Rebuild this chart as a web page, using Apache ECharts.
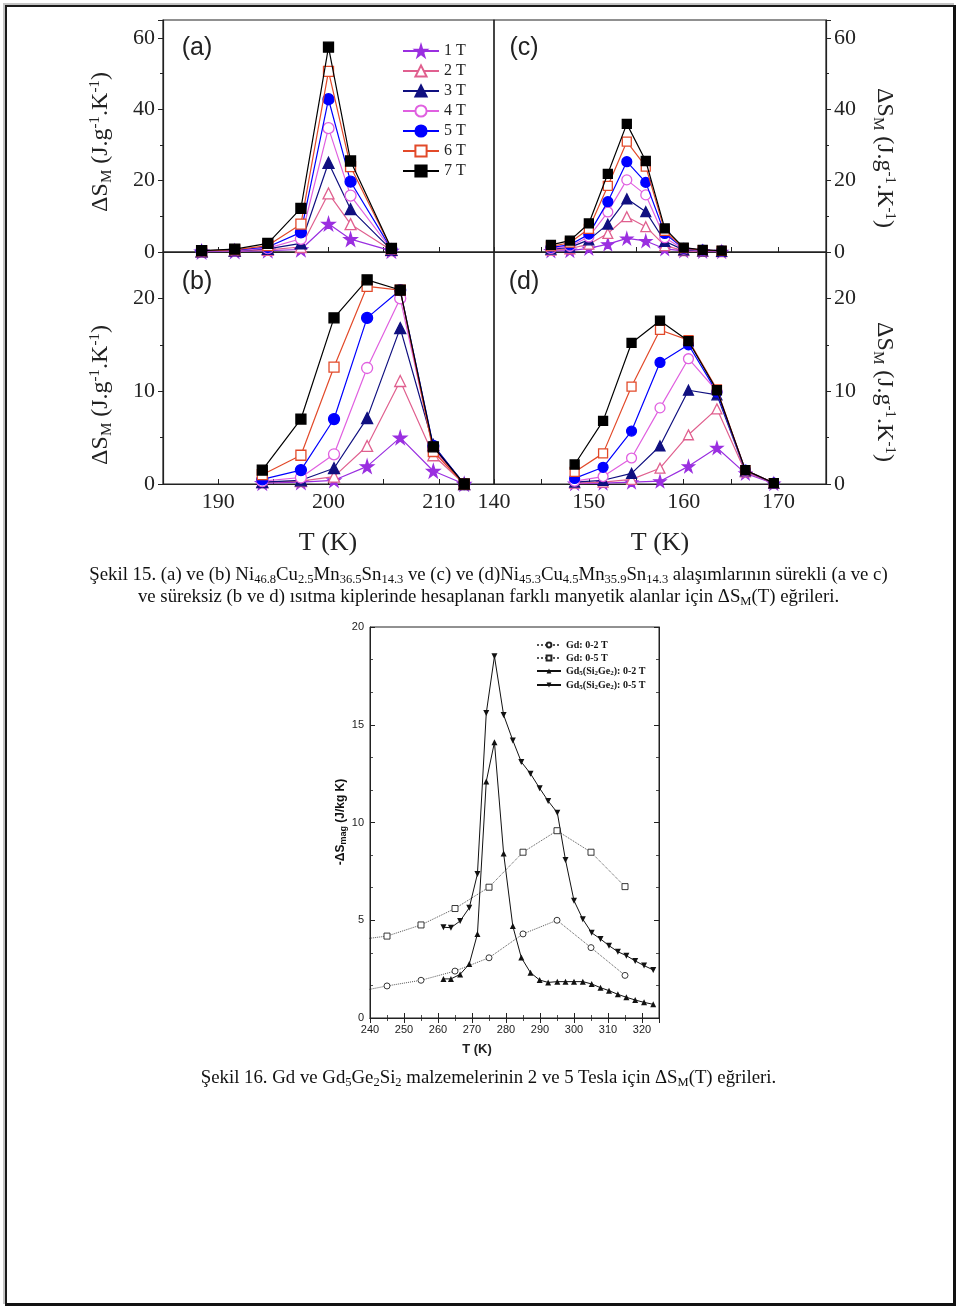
<!DOCTYPE html>
<html><head><meta charset="utf-8">
<script src="https://cdn.jsdelivr.net/npm/echarts@6/dist/echarts.min.js"></script>
<style>
html,body{margin:0;padding:0;background:#fff;}
#wrap{position:relative;width:960px;height:1309px;overflow:hidden;background:#fff;}
#chart{position:absolute;left:0;top:0;width:960px;height:1309px;}
.frame{position:absolute;left:5px;top:5px;width:946px;height:1296px;border-left:2px solid #1a1a1a;border-top:2px solid #1a1a1a;border-right:3px solid #111;border-bottom:3px solid #111;box-shadow:-2px -2px 0 #c4c4c4;pointer-events:none;}
.cap{position:absolute;left:0;width:977px;text-align:center;font-family:'Liberation Serif','Times New Roman',serif;font-size:18.8px;line-height:22px;color:#111;white-space:nowrap;}
.cap sub{font-size:12.5px;vertical-align:-3px;line-height:0;}
</style></head>
<body>
<div id="wrap">
<div id="chart"></div>
<div class="frame"></div>
<div class="cap" style="top:563px;">Şekil 15. (a) ve (b) Ni<sub>46.8</sub>Cu<sub>2.5</sub>Mn<sub>36.5</sub>Sn<sub>14.3</sub> ve (c) ve (d)Ni<sub>45.3</sub>Cu<sub>4.5</sub>Mn<sub>35.9</sub>Sn<sub>14.3</sub> alaşımlarının sürekli (a ve c)<br>ve süreksiz (b ve d) ısıtma kiplerinde hesaplanan farklı manyetik alanlar için ΔS<sub>M</sub>(T) eğrileri.</div>
<div class="cap" style="top:1066px;">Şekil 16. Gd ve Gd<sub>5</sub>Ge<sub>2</sub>Si<sub>2</sub> malzemelerinin 2 ve 5 Tesla için ΔS<sub>M</sub>(T) eğrileri.</div>
</div>
<script>
// ---------------- DATA ----------------
const fieldNames = ['1 T', '2 T', '3 T', '4 T', '5 T', '6 T', '7 T'];

// panel (a)
const tA = [188.5, 191.5, 194.5, 197.5, 200, 202, 205.7];
const valsA = [
  [0.1, 0.2, 0.4, 0.7, 7.9, 3.6, 0.3],
  [0.1, 0.3, 0.6, 1.4, 16.4, 7.8, 0.5],
  [0.2, 0.4, 0.9, 2.4, 25.0, 12.0, 0.6],
  [0.2, 0.4, 1.1, 3.7, 34.7, 15.8, 0.7],
  [0.3, 0.5, 1.4, 5.5, 42.8, 19.7, 0.8],
  [0.3, 0.6, 1.8, 7.8, 50.6, 23.9, 0.9],
  [0.4, 0.8, 2.4, 12.2, 57.4, 25.5, 1.0]
];
// panel (c)
const tC = [146, 148, 150, 152, 154, 156, 158, 160, 162, 164];
const valsC = [
  [0.3, 0.4, 1.0, 2.2, 3.8, 3.1, 0.9, 0.3, 0.2, 0.1],
  [0.5, 0.9, 2.2, 5.2, 9.9, 7.1, 1.8, 0.4, 0.2, 0.1],
  [0.8, 1.3, 3.4, 7.8, 14.9, 11.3, 3.0, 0.6, 0.3, 0.2],
  [1.0, 1.6, 4.2, 11.2, 20.2, 16.0, 4.0, 0.8, 0.4, 0.2],
  [1.3, 2.0, 5.0, 14.1, 25.3, 19.5, 5.2, 1.0, 0.5, 0.3],
  [1.6, 2.6, 6.5, 18.5, 30.9, 23.9, 5.9, 1.1, 0.5, 0.3],
  [2.0, 3.2, 8.0, 21.9, 35.9, 25.5, 6.6, 1.2, 0.6, 0.4]
];
// panel (b)
const tB = [194, 197.5, 200.5, 203.5, 206.5, 209.5, 212.3];
const valsB = [
  [0.1, 0.2, 0.4, 1.9, 5.0, 1.4, 0],
  [0.2, 0.3, 0.8, 4.1, 11.1, 3.1, 0],
  [0.2, 0.4, 1.7, 7.1, 16.8, 4.2, 0],
  [0.3, 0.7, 3.2, 12.5, 20.0, 3.8, 0],
  [0.5, 1.5, 7.0, 17.9, 20.9, 4.1, 0],
  [1.0, 3.1, 12.6, 21.3, 20.9, 3.5, 0],
  [1.5, 7.0, 17.9, 22.0, 20.9, 4.0, 0]
];
// panel (d)
const tD = [148.5, 151.5, 154.5, 157.5, 160.5, 163.5, 166.5, 169.5];
const valsD = [
  [0.05, 0.1, 0.2, 0.3, 1.9, 3.9, 1.15, 0.05],
  [0.1, 0.2, 0.5, 1.7, 5.3, 8.1, 1.3, 0.1],
  [0.2, 0.4, 1.15, 4.1, 10.1, 9.6, 1.4, 0.1],
  [0.3, 0.8, 2.8, 8.2, 13.5, 10.0, 1.4, 0.1],
  [0.6, 1.8, 5.7, 13.1, 15.0, 9.9, 1.5, 0.1],
  [1.3, 3.3, 10.5, 16.6, 15.5, 10.2, 1.5, 0.1],
  [2.1, 6.8, 15.2, 17.6, 15.4, 10.1, 1.5, 0.1]
];

// tick labels (top figure)
const xLabelsLeft = [190, 200, 210];
const xLabelsRight = [140, 150, 160, 170];
const yLabelsTop = [0, 20, 40, 60];
const yLabelsBottom = [0, 10, 20];

// bottom figure (Gd and Gd5(Si2Ge2))
const gdNames = ['Gd: 0-2 T', 'Gd: 0-5 T', 'Gd5(Si2Ge2): 0-2 T', 'Gd5(Si2Ge2): 0-5 T'];
const gdT = [235, 245, 255, 265, 275, 285, 295, 305, 315];
const gd2T = [1.30, 1.64, 1.93, 2.40, 3.08, 4.30, 5.00, 3.60, 2.18];
const gd5T = [3.97, 4.19, 4.76, 5.60, 6.69, 8.48, 9.58, 8.48, 6.72];
const gsgT = [261.6, 263.8, 266.5, 269.2, 271.6, 274.2, 276.6, 279.3, 282.0, 284.5, 287.2, 289.9, 292.4, 295.1, 297.5, 300.0, 302.6, 305.2, 307.8, 310.3, 312.9, 315.4, 318.0, 320.6, 323.3];
const gsg2T = [2.00, 2.00, 2.23, 2.76, 4.30, 12.1, 14.1, 8.42, 4.70, 3.09, 2.32, 1.94, 1.82, 1.86, 1.86, 1.86, 1.86, 1.74, 1.55, 1.40, 1.21, 1.06, 0.92, 0.80, 0.70];
const gsg5T = [4.64, 4.62, 4.96, 5.64, 7.37, 15.6, 18.5, 15.5, 14.2, 13.1, 12.5, 11.75, 11.1, 10.5, 8.08, 6.00, 5.05, 4.36, 4.04, 3.70, 3.39, 3.19, 2.92, 2.68, 2.46];
const xLabelsGd = [240, 250, 260, 270, 280, 290, 300, 310, 320];
const yLabelsGd = [0, 5, 10, 15, 20];

// ---------------- STYLE ----------------
const SERIF = "'Liberation Serif','Times New Roman',serif";
const SANS = "'Liberation Sans',Arial,sans-serif";
const STAR = 'path://M50,0 L61,35 L98,35 L68,57 L79,91 L50,70 L21,91 L32,57 L2,35 L39,35 Z';
const DOWN_TRI = 'path://M0,0 L10,0 L5,9 Z';
const fieldStyles = [
  {c: '#9a2fe0', sym: STAR, fill: '#9a2fe0', size: 13},
  {c: '#e0608f', sym: 'triangle', fill: '#ffffff', size: 11},
  {c: '#101080', sym: 'triangle', fill: '#101080', size: 11},
  {c: '#e060e0', sym: 'circle', fill: '#ffffff', size: 11},
  {c: '#0000ff', sym: 'circle', fill: '#0000ff', size: 11},
  {c: '#e24a2a', sym: 'rect', fill: '#ffffff', size: 10},
  {c: '#000000', sym: 'rect', fill: '#000000', size: 10}
];

function panelSeries(ts, vals, gi, scale) {
  return vals.map(function (row, k) {
    const s = fieldStyles[k];
    return {
      name: fieldNames[k], type: 'line', xAxisIndex: gi, yAxisIndex: gi,
      data: row.map(function (v, i) { return [ts[i], v]; }),
      symbol: s.sym, symbolSize: s.size * scale, showSymbol: true, showAllSymbol: true,
      lineStyle: {color: s.c, width: 1.2},
      itemStyle: {color: s.fill, borderColor: s.c, borderWidth: 1.3},
      z: 2 + k, animation: false, clip: true
    };
  });
}

function labelFmt(list) {
  return function (v) { return list.indexOf(Math.round(v * 1000) / 1000) >= 0 ? String(v) : ''; };
}

const axisLineStyle = {show: true, lineStyle: {color: '#222', width: 1.2}};

function topX(gi, min, max, labels, showLabels) {
  return {
    type: 'value', gridIndex: gi, min: min, max: max, interval: 5, position: 'bottom',
    axisLine: axisLineStyle,
    axisTick: {show: true, inside: true, length: 5, lineStyle: {color: '#222', width: 1}},
    axisLabel: {show: showLabels, fontFamily: SERIF, fontSize: 22, color: '#222', margin: 7, formatter: labelFmt(labels), showMinLabel: true, showMaxLabel: true},
    splitLine: {show: false}
  };
}
function topY(gi, max, interval, labels, pos) {
  return {
    type: 'value', gridIndex: gi, min: 0, max: max, interval: interval, position: pos,
    axisLine: axisLineStyle,
    axisTick: {show: true, inside: false, length: 5, lineStyle: {color: '#222', width: 1}},
    minorTick: {show: true, splitNumber: 2, length: 3, lineStyle: {color: '#222', width: 1}},
    axisLabel: {fontFamily: SERIF, fontSize: 22, color: '#222', margin: 8, formatter: labelFmt(labels), showMinLabel: true, showMaxLabel: true},
    splitLine: {show: false}
  };
}

const gridStyle = {show: true, borderColor: '#222', borderWidth: 1.2, backgroundColor: 'transparent'};

const series = []
  .concat(panelSeries(tA, valsA, 0, 1))
  .concat(panelSeries(tC, valsC, 1, 0.9))
  .concat(panelSeries(tB, valsB, 2, 1))
  .concat(panelSeries(tD, valsD, 3, 0.9));

// bottom figure series
series.push({
  name: gdNames[0], type: 'line', xAxisIndex: 4, yAxisIndex: 4, clip: true,
  data: gdT.map(function (t, i) { return [t, gd2T[i]]; }),
  symbol: 'circle', symbolSize: 6, showAllSymbol: true,
  lineStyle: {type: 'dotted', color: '#555', width: 1},
  itemStyle: {color: '#fff', borderColor: '#222', borderWidth: 0.9}
});
series.push({
  name: gdNames[1], type: 'line', xAxisIndex: 4, yAxisIndex: 4, clip: true,
  data: gdT.map(function (t, i) { return [t, gd5T[i]]; }),
  symbol: 'rect', symbolSize: 6, showAllSymbol: true,
  lineStyle: {type: 'dotted', color: '#555', width: 1},
  itemStyle: {color: '#fff', borderColor: '#222', borderWidth: 0.9}
});
series.push({
  name: gdNames[2], type: 'line', xAxisIndex: 4, yAxisIndex: 4, clip: true,
  data: gsgT.map(function (t, i) { return [t, gsg2T[i]]; }),
  symbol: 'triangle', symbolSize: 6, showAllSymbol: true,
  lineStyle: {color: '#111', width: 1},
  itemStyle: {color: '#111', borderColor: '#111', borderWidth: 0}
});
series.push({
  name: gdNames[3], type: 'line', xAxisIndex: 4, yAxisIndex: 4, clip: true,
  data: gsgT.map(function (t, i) { return [t, gsg5T[i]]; }),
  symbol: DOWN_TRI, symbolSize: 6, showAllSymbol: true,
  lineStyle: {color: '#111', width: 1},
  itemStyle: {color: '#111', borderColor: '#111', borderWidth: 0}
});

const gdLegendText = {
  'Gd: 0-2 T': '{b|Gd: 0-2 T}',
  'Gd: 0-5 T': '{b|Gd: 0-5 T}',
  'Gd5(Si2Ge2): 0-2 T': '{b|Gd}{s|5}{b|(Si}{s|2}{b|Ge}{s|2}{b|): 0-2 T}',
  'Gd5(Si2Ge2): 0-5 T': '{b|Gd}{s|5}{b|(Si}{s|2}{b|Ge}{s|2}{b|): 0-5 T}'
};

const nameRich = {
  n: {fontFamily: SERIF, fontSize: 24, fill: '#222'},
  sub: {fontFamily: SERIF, fontSize: 15, fill: '#222', padding: [12, 0, 0, 0]},
  sup: {fontFamily: SERIF, fontSize: 15, fill: '#222', padding: [0, 0, 12, 0]}
};
const nameText = '{n|ΔS}{sub|M}{n| (J.g}{sup|-1}{n|.K}{sup|-1}{n|)}';

function gText(x, y, text, font, extra) {
  return {type: 'text', x: x, y: y, silent: true, style: Object.assign({text: text, font: font, fill: '#222', align: 'center', verticalAlign: 'middle'}, extra || {})};
}

const graphic = [
  gText(197, 48, '(a)', "25px " + SANS),
  gText(197, 282, '(b)', "25px " + SANS),
  gText(524, 48, '(c)', "25px " + SANS),
  gText(524, 282, '(d)', "25px " + SANS),
  gText(328, 543, 'T (K)', "26px " + SERIF),
  gText(660, 543, 'T (K)', "26px " + SERIF),
  {type: 'text', x: 101, y: 142, rotation: Math.PI / 2, silent: true, style: {text: nameText, rich: nameRich, align: 'center', verticalAlign: 'middle', fill: '#222'}},
  {type: 'text', x: 101, y: 395, rotation: Math.PI / 2, silent: true, style: {text: nameText, rich: nameRich, align: 'center', verticalAlign: 'middle', fill: '#222'}},
  {type: 'text', x: 884, y: 158, rotation: -Math.PI / 2, silent: true, style: {text: nameText, rich: nameRich, align: 'center', verticalAlign: 'middle', fill: '#222'}},
  {type: 'text', x: 884, y: 392, rotation: -Math.PI / 2, silent: true, style: {text: nameText, rich: nameRich, align: 'center', verticalAlign: 'middle', fill: '#222'}},
  gText(477, 1049, 'T (K)', "bold 13px " + SANS),
  {type: 'text', x: 341, y: 822, rotation: Math.PI / 2, silent: true, style: {
    text: '{b|-ΔS}{s|mag}{b| (J/kg K)}', align: 'center', verticalAlign: 'middle', fill: '#111',
    rich: {b: {fontFamily: SANS, fontWeight: 'bold', fontSize: 12, fill: '#111'}, s: {fontFamily: SANS, fontWeight: 'bold', fontSize: 9, fill: '#111', padding: [6, 0, 0, 0]}}
  }}
];

const gdAxisTick = {show: true, inside: true, length: 5, lineStyle: {color: '#222', width: 1}};
const gdMinorX = {show: true, splitNumber: 2, length: 3, lineStyle: {color: '#222', width: 0.8}};
const gdMinorY = {show: true, splitNumber: 3, length: 3, lineStyle: {color: '#222', width: 0.8}};

const option = {
  animation: false,
  backgroundColor: '#ffffff',
  grid: [
    Object.assign({left: 163, top: 20, width: 331, height: 232}, gridStyle),
    Object.assign({left: 494, top: 20, width: 332, height: 232}, gridStyle),
    Object.assign({left: 163, top: 252, width: 331, height: 232}, gridStyle),
    Object.assign({left: 494, top: 252, width: 332, height: 232}, gridStyle),
    Object.assign({left: 370, top: 627, width: 289, height: 391}, {show: true, borderColor: '#222', borderWidth: 1})
  ],
  xAxis: [
    topX(0, 185, 215, xLabelsLeft, false),
    topX(1, 140, 175, xLabelsRight, false),
    topX(2, 185, 215, xLabelsLeft, true),
    topX(3, 140, 175, xLabelsRight, true),
    {type: 'value', gridIndex: 4, min: 240, max: 325, interval: 10, position: 'bottom',
      axisLine: {show: true, lineStyle: {color: '#222', width: 1}}, axisTick: gdAxisTick, minorTick: gdMinorX,
      axisLabel: {fontFamily: SANS, fontSize: 11, color: '#222', margin: 6, formatter: labelFmt(xLabelsGd), showMinLabel: true, showMaxLabel: true},
      splitLine: {show: false}},
    {type: 'value', gridIndex: 4, min: 240, max: 325, interval: 10, position: 'top',
      axisLine: {show: true, lineStyle: {color: '#222', width: 1}}, axisTick: gdAxisTick, minorTick: gdMinorX,
      axisLabel: {show: false}, splitLine: {show: false}}
  ],
  yAxis: [
    topY(0, 65, 20, yLabelsTop, 'left'),
    topY(1, 65, 20, yLabelsTop, 'right'),
    topY(2, 25, 10, yLabelsBottom, 'left'),
    topY(3, 25, 10, yLabelsBottom, 'right'),
    {type: 'value', gridIndex: 4, min: 0, max: 20, interval: 5, position: 'left',
      axisLine: {show: true, lineStyle: {color: '#222', width: 1}}, axisTick: gdAxisTick, minorTick: gdMinorY,
      axisLabel: {fontFamily: SANS, fontSize: 11, color: '#222', margin: 6, formatter: labelFmt(yLabelsGd)},
      splitLine: {show: false}},
    {type: 'value', gridIndex: 4, min: 0, max: 20, interval: 5, position: 'right',
      axisLine: {show: true, lineStyle: {color: '#222', width: 1}}, axisTick: gdAxisTick, minorTick: gdMinorY,
      axisLabel: {show: false}, splitLine: {show: false}}
  ],
  legend: [
    {data: fieldNames, orient: 'vertical', left: 397, top: 38, itemWidth: 36, itemHeight: 14, itemGap: 4,
      selectedMode: false, textStyle: {fontFamily: SERIF, fontSize: 16, color: '#222'}},
    {data: gdNames, orient: 'vertical', left: 531, top: 635, itemWidth: 24, itemHeight: 6, itemGap: 3,
      selectedMode: false, formatter: function (n) { return gdLegendText[n]; },
      textStyle: {fontFamily: SERIF, fontSize: 10, fontWeight: 'bold', color: '#111',
        rich: {b: {fontFamily: SERIF, fontSize: 10, fontWeight: 'bold', color: '#111'},
               s: {fontFamily: SERIF, fontSize: 7, fontWeight: 'bold', color: '#111', padding: [5, 0, 0, 0]}}}}
  ],
  graphic: graphic,
  series: series
};

const chart = echarts.init(document.getElementById('chart'), null, {renderer: 'canvas'});
chart.setOption(option);
</script>
</body></html>
